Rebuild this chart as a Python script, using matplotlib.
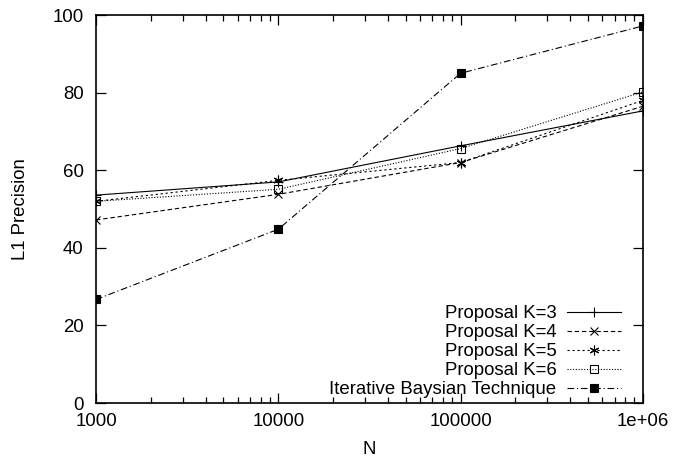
import matplotlib
matplotlib.use('Agg')
import matplotlib.pyplot as plt
from matplotlib.ticker import FixedLocator, LogLocator, NullFormatter

plt.rcParams['font.family'] = ['Liberation Sans', 'DejaVu Sans']
plt.rcParams['font.size'] = 13.4

# data
n_values = [1000, 10000, 100000, 1000000]
k3 = [53.6, 57.0, 66.3, 75.3]
k4 = [47.2, 53.8, 62.0, 76.5]
k5 = [52.0, 57.4, 62.0, 78.0]
k6 = [52.0, 55.1, 65.6, 80.2]
iterative = [26.7, 44.8, 85.0, 97.2]

x_ticks = [1000, 10000, 100000, 1000000]
x_labels = ['1000', '10000', '100000', '1e+06']
y_ticks = [0, 20, 40, 60, 80, 100]

fig = plt.figure(figsize=(6.86, 4.58), dpi=100)
ax = fig.add_axes([0.140, 0.120, 0.797, 0.847])

lw = 0.8
ax.plot(n_values, k3, color='black', lw=lw, ls='-', marker='+', ms=7,
        mew=lw, label='Proposal K=3')
ax.plot(n_values, k4, color='black', lw=lw, ls=(0, (4, 2.5)), marker='x',
        ms=6, mew=lw, label='Proposal K=4')
ax.plot(n_values, k5, color='black', lw=lw, ls=(0, (2, 2.5)),
        marker=(6, 2, 0), ms=7, mew=lw, label='Proposal K=5')
ax.plot(n_values, k6, color='black', lw=lw, ls=(0, (1, 1.5)), marker='s',
        ms=6, mew=lw, mfc='none', label='Proposal K=6')
ax.plot(n_values, iterative, color='black', lw=lw, ls=(0, (6, 2.5, 1, 2.5)),
        marker='s', ms=6, mew=lw, label='Iterative Baysian Technique')

ax.set_xscale('log')
ax.set_xlim(1000, 1000000)
ax.set_ylim(0, 100)
ax.xaxis.set_major_locator(FixedLocator(x_ticks))
ax.set_xticklabels(x_labels)
ax.xaxis.set_minor_locator(LogLocator(base=10, subs=range(2, 10)))
ax.xaxis.set_minor_formatter(NullFormatter())
ax.set_yticks(y_ticks)

ax.tick_params(which='both', direction='in', top=True, right=True)
ax.tick_params(axis='y', pad=9)
ax.tick_params(axis='x', pad=7)
ax.tick_params(which='major', length=7, width=0.9)
ax.tick_params(which='minor', length=4, width=0.9)
for s in ax.spines.values():
    s.set_linewidth(1.2)

ax.set_xlabel('N', labelpad=8)
ax.set_ylabel('L1 Precision', labelpad=17)

leg = ax.legend(loc='lower right', bbox_to_anchor=(1 - 22 / 547, 5 / 388),
                markerfirst=False, frameon=False,
                handlelength=2.9, handletextpad=0.55, labelspacing=0.1,
                borderaxespad=0.0, borderpad=0.0)

fig.savefig('out.png', dpi=100)
